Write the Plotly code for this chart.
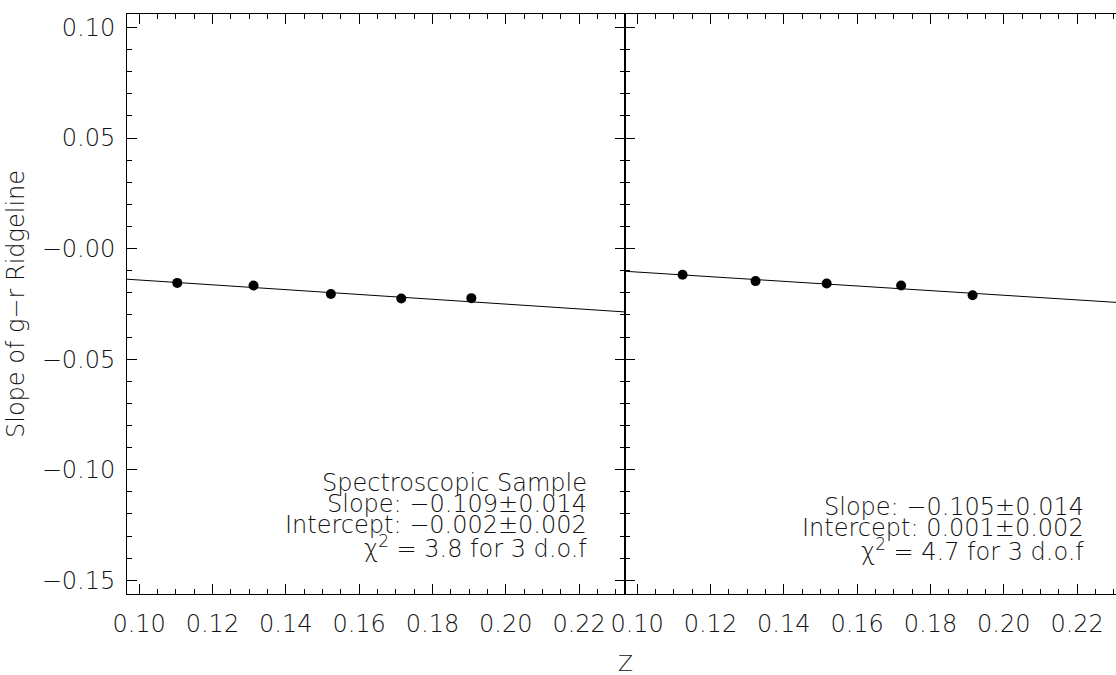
import plotly.graph_objects as go

# ---- data ----
z_left = [0.1104, 0.1312, 0.1523, 0.1715, 0.1906]
slope_left = [-0.0155, -0.0167, -0.0205, -0.0226, -0.0224]
z_right = [0.1124, 0.1323, 0.1517, 0.1720, 0.1915]
slope_right = [-0.0118, -0.0147, -0.0158, -0.0167, -0.0211]

fit_slope = [-0.109, -0.105]
fit_intercept = [-0.0033, -0.0001]

x_range_left = [0.0967, 0.2325]
x_range_right = [0.0967, 0.2306]
y_range = [-0.1562, 0.1061]

x_tickvals = [0.10, 0.12, 0.14, 0.16, 0.18, 0.20, 0.22]
x_ticktext = ["0.10", "0.12", "0.14", "0.16", "0.18", "0.20", "0.22"]
y_tickvals = [0.10, 0.05, 0.0, -0.05, -0.10, -0.15]
y_ticktext = ["0.10", "0.05", "\u22120.00", "\u22120.05", "\u22120.10", "\u22120.15"]

left_text = ["Spectroscopic Sample",
             "Slope: \u22120.109\u00b10.014",
             "Intercept: \u22120.002\u00b10.002",
             "\u03c7<sup>2</sup> = 3.8 for 3 d.o.f"]
left_text_y = [-0.1060, -0.1154, -0.1250, -0.1350]
right_text = ["Slope: \u22120.105\u00b10.014",
              "Intercept: 0.001\u00b10.002",
              "\u03c7<sup>2</sup> = 4.7 for 3 d.o.f"]
right_text_y = [-0.1170, -0.1265, -0.1365]

FONT = "DejaVu Sans"
TXT = "#111111"
W = 300

fig = go.Figure()

# fit lines
for i, (xr, xa, ya) in enumerate([(x_range_left, "x", "y"), (x_range_right, "x2", "y2")]):
    fx = [xr[0], xr[1]]
    fy = [fit_intercept[i] + fit_slope[i] * v for v in fx]
    fig.add_trace(go.Scatter(x=fx, y=fy, mode="lines", line=dict(color="black", width=1),
                             xaxis=xa, yaxis=ya, showlegend=False, hoverinfo="skip"))

fig.add_trace(go.Scatter(x=z_left, y=slope_left, mode="markers",
                         marker=dict(color="black", size=10), xaxis="x", yaxis="y", showlegend=False))
fig.add_trace(go.Scatter(x=z_right, y=slope_right, mode="markers",
                         marker=dict(color="black", size=10), xaxis="x2", yaxis="y2", showlegend=False))

split = 498 / 989

common_x = dict(showline=True, linecolor="black", linewidth=1, mirror="allticks",
                ticks="inside", ticklen=10, tickwidth=1, tickcolor="black",
                tickvals=x_tickvals, ticktext=x_ticktext,
                minor=dict(ticks="inside", ticklen=5, dtick=0.005, tick0=0.1, tickcolor="black"),
                showgrid=False, zeroline=False, automargin=False,
                tickfont=dict(family=FONT, size=24, color=TXT, weight=W), ticklabelstandoff=8)

common_y = dict(showline=True, linecolor="black", linewidth=1,
                ticks="inside", ticklen=10, tickwidth=1, tickcolor="black",
                minor=dict(ticks="inside", ticklen=5, dtick=0.01, tick0=0, tickcolor="black"),
                showgrid=False, zeroline=False, range=y_range, automargin=False)

fig.update_layout(
    width=1116, height=675,
    margin=dict(l=127, r=0, t=14, b=81),
    plot_bgcolor="white", paper_bgcolor="white",
    xaxis=dict(domain=[0, split], range=x_range_left, anchor="y", **common_x),
    xaxis2=dict(domain=[split, 1], range=x_range_right, anchor="y2", **common_x),
    yaxis=dict(anchor="x", mirror="allticks", tickvals=y_tickvals, ticktext=y_ticktext,
               tickfont=dict(family=FONT, size=24, color=TXT, weight=W), ticklabelstandoff=6,
               title=dict(text="Slope of g\u2212r Ridgeline",
                          font=dict(family=FONT, size=24, color=TXT, weight=W),
                          standoff=10),
               **common_y),
    yaxis2=dict(anchor="x2", mirror=False, showticklabels=False, tickvals=y_tickvals,
                **common_y),
)

for t, yy in zip(left_text, left_text_y):
    fig.add_annotation(x=0.2226, y=yy, xref="x", yref="y", text=t, showarrow=False,
                       xanchor="right", yanchor="middle",
                       font=dict(family=FONT, size=24, color=TXT, weight=W))
for t, yy in zip(right_text, right_text_y):
    fig.add_annotation(x=0.2224, y=yy, xref="x2", yref="y2", text=t, showarrow=False,
                       xanchor="right", yanchor="middle",
                       font=dict(family=FONT, size=24, color=TXT, weight=W))

# x-axis title "Z", centred on the panel boundary
fig.add_annotation(x=(625 - 127) / 989, y=(594 - 663) / 580, xref="paper", yref="paper", text="Z",
                   showarrow=False, xanchor="center", yanchor="middle",
                   font=dict(family=FONT, size=22, color=TXT, weight=W))

fig.write_html("out.html", config={"displayModeBar": False},
               post_script="document.body.style.margin='0';document.body.style.overflow='hidden';")
